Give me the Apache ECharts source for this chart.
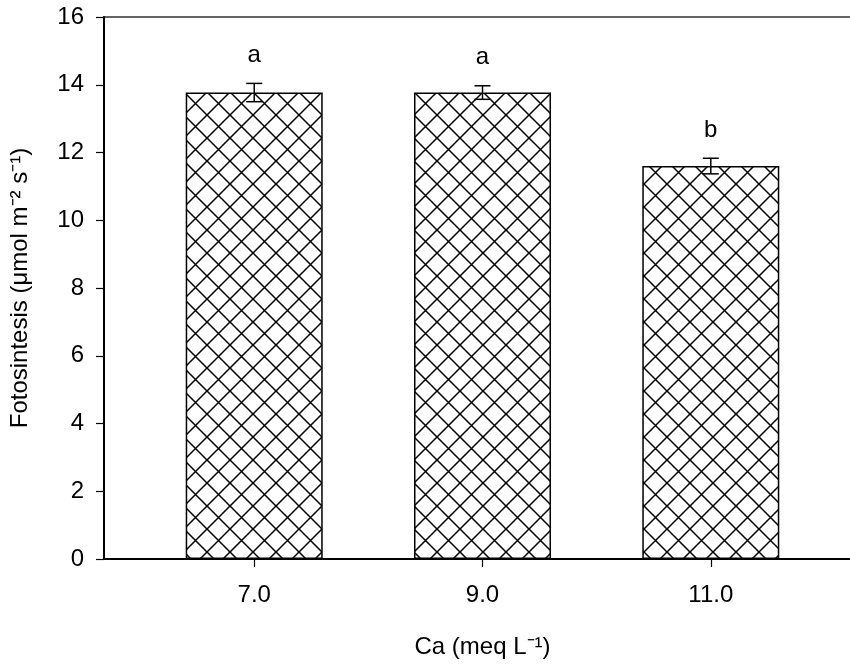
<!DOCTYPE html>
<html>
<head>
<meta charset="utf-8">
<script src="https://cdn.jsdelivr.net/npm/echarts@6/dist/echarts.min.js"></script>
<style>html,body{margin:0;padding:0;background:#fff;}#c{width:850px;height:664px;}</style>
</head>
<body>
<div id="c"></div>
<script>
const categories = [7, 9, 11];
const tickLabels = ['7.0', '9.0', '11.0'];
const values = [13.77, 13.77, 11.60];
const errors = [0.27, 0.20, 0.23];
const letters = ['a', 'a', 'b'];
const yTicks = [0, 2, 4, 6, 8, 10, 12, 14, 16];

// crosshatch pattern tile
const tile = document.createElement('canvas');
const S = 23;
tile.width = S; tile.height = S;
const g = tile.getContext('2d');
g.fillStyle = '#fff';
g.fillRect(0, 0, S, S);
g.strokeStyle = '#000';
g.lineWidth = 1.5;
g.beginPath();
g.moveTo(-2, -2); g.lineTo(S + 2, S + 2);
g.moveTo(S + 2, -2); g.lineTo(-2, S + 2);
g.stroke();

const font = '"Liberation Sans", Arial, sans-serif';
const FS = 24;
const chart = echarts.init(document.getElementById('c'), null, {renderer: 'canvas'});

const barData = categories.map((c, i) => [c, values[i]]);
const errData = categories.map((c, i) => [c, values[i] - errors[i], values[i] + errors[i], i]);

chart.setOption({
  animation: false,
  backgroundColor: '#fff',
  grid: {left: 104, top: 17, width: 757, height: 542, show: true, borderColor: '#333', borderWidth: 1.5,
    backgroundColor: 'transparent', containLabel: false, outerBoundsMode: 'none'},
  xAxis: {
    type: 'value', min: 5.684, max: 12.316,
    name: 'Ca (meq L\u207B\u00B9)', nameLocation: 'middle', nameGap: 76,
    nameTextStyle: {fontFamily: font, fontSize: FS, color: '#000'},
    axisLine: {show: true, onZero: false, lineStyle: {color: '#000', width: 2}},
    axisTick: {show: true, length: 8, lineStyle: {color: '#000', width: 1.2}, customValues: categories},
    axisLabel: {show: true, fontFamily: font, fontSize: FS, color: '#000', margin: 24,
      customValues: categories,
      formatter: v => tickLabels[categories.indexOf(v)] || ''},
    splitLine: {show: false}
  },
  yAxis: {
    type: 'value', min: 0, max: 16, interval: 2,
    name: 'Fotosintesis (\u03BCmol m\u207B\u00B2 s\u207B\u00B9)', nameLocation: 'middle', nameGap: 72,
    nameTextStyle: {fontFamily: font, fontSize: FS, color: '#000'},
    axisLine: {show: true, lineStyle: {color: '#000', width: 2}},
    axisTick: {show: true, length: 8, lineStyle: {color: '#000', width: 1.2}},
    axisLabel: {fontFamily: font, fontSize: FS, color: '#000', margin: 20,
      formatter: v => yTicks.indexOf(v) >= 0 ? String(v) : ''},
    splitLine: {show: false}
  },
  series: [
    {
      type: 'bar', data: barData, barWidth: 137,
      itemStyle: {color: {image: tile, repeat: 'repeat'}, borderColor: '#000', borderWidth: 1.5}
    },
    {
      type: 'custom', data: errData, z: 5,
      renderItem: function (params, api) {
        const x = api.coord([api.value(0), 0])[0];
        const lo = api.coord([api.value(0), api.value(1)])[1];
        const hi = api.coord([api.value(0), api.value(2)])[1];
        const idx = api.value(3);
        const hw = 8;
        const st = {stroke: '#000', lineWidth: 1.5};
        return {
          type: 'group',
          children: [
            {type: 'line', shape: {x1: x, y1: lo, x2: x, y2: hi}, style: st},
            {type: 'line', shape: {x1: x - hw, y1: lo, x2: x + hw, y2: lo}, style: st},
            {type: 'line', shape: {x1: x - hw, y1: hi, x2: x + hw, y2: hi}, style: st},
            {type: 'text', x: x, y: hi - 16, style: {text: letters[idx], fontFamily: font, fontSize: FS, fill: '#000', align: 'center', verticalAlign: 'bottom'}}
          ]
        };
      }
    }
  ]
});
</script>
</body>
</html>
